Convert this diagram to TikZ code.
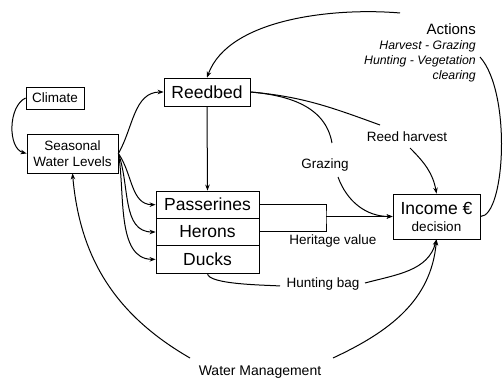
\documentclass[tikz,border=0pt]{standalone}
\usepackage{fontspec}
\setmainfont{Liberation Sans}
\usetikzlibrary{arrows.meta}
\newcommand{\actit}{\fontsize{12.3}{15}\selectfont\itshape}
\begin{document}
\begin{tikzpicture}[x=1pt,y=1pt,
  box/.style={draw, line width=0.8pt, inner sep=0pt, align=center},
  big/.style={font=\fontsize{17.5}{20}\selectfont},
  mid/.style={font=\fontsize{13.5}{15.5}\selectfont},
  lab/.style={font=\fontsize{13.5}{16}\selectfont, inner sep=2pt},
  conn/.style={line width=1pt},
  arr/.style={conn, -{Stealth[length=6pt,width=4.5pt]}}]
\useasboundingbox (0,0) rectangle (503,383);

% boxes
\node[box,mid,minimum width=58pt,minimum height=22pt] (climate) at (55,285) {Climate};
\node[box,mid,minimum width=91pt,minimum height=39pt] (swl) at (72.5,229.5) {Seasonal\\Water Levels};
\node[box,big,minimum width=86pt,minimum height=28pt] (reed) at (207,291) {Reedbed};
\node[box,big,minimum width=103pt,minimum height=27.33pt] (pass) at (207.5,178.33) {Passerines};
\node[box,big,minimum width=103pt,minimum height=27.33pt] (her) at (207.5,151) {Herons};
\node[box,big,minimum width=103pt,minimum height=27.33pt] (duck) at (207.5,123.67) {Ducks};
\node[box,font=\fontsize{13.5}{17}\selectfont,minimum width=87pt,minimum height=45pt] (inc) at (436.5,166.5)
  {{\fontsize{17.5}{17}\selectfont Income €}\\decision};

% labels
\node[lab] (rh) at (407,246) {Reed harvest};
\node[lab] (gr) at (325,218) {Grazing};
\node[lab] (hv) at (333,142) {Heritage value};
\node[lab] (hb) at (323,99) {Hunting bag};
\node[lab,font=\fontsize{14}{16}\selectfont] (wm) at (260,11) {Water Management};
\node[align=right, anchor=north east, inner sep=0pt, font=\fontsize{12.3}{15}\selectfont] (act) at (476,360)
  {{\fontsize{15}{15}\selectfont Actions}\\{\actit Harvest - Grazing}\\{\actit Hunting - Vegetation}\\{\actit clearing}};

\coordinate (a1) at (400,370);
\coordinate (a2) at (480,326);
\coordinate (hj) at (326,166.5);

% connectors
\draw[arr] (climate.west) to[out=205,in=165,looseness=0.9] (swl.west);
\draw[arr] (swl.east) to[out=60,in=180] (reed.west);
\draw[arr] (swl.east) to[out=-55,in=180] (pass.west);
\draw[arr] (swl.east) to[out=-70,in=180] (her.west);
\draw[arr] (swl.east) to[out=-80,in=180,looseness=0.9] (duck.west);
\draw[arr] (reed.south) -- (pass.north);

\draw[arr] (a1) to[out=175,in=70,looseness=0.8] (reed.north);
\draw[conn] (inc.east) .. controls (505,166.5) and (512,290) .. (a2);

\draw[conn] (reed.east) to[out=-5,in=160] ([shift={(-27,12)}]rh.center);
\draw[arr] ([shift={(3,-11)}]rh.center) to[out=-45,in=100] (inc.north);

\draw[conn] (reed.east) to[out=-5,in=100] ([shift={(7,22)}]gr.center);
\draw[arr] ([shift={(13,-12)}]gr.center) to[out=-70,in=180] (inc.west);

\draw[conn] (pass.east) -| (hj) |- (her.east);
\draw[arr] (hj) -- (inc.west);

\draw[conn] (duck.south) to[out=-90,in=175,looseness=0.4] ([shift={(-43,-2)}]hb.center);
\draw[arr] ([shift={(42,1)}]hb.center) to[out=15,in=-105] (inc.south);

\draw[arr] ([shift={(-70,14)}]wm.center) to[out=150,in=-85] (swl.south);
\draw[arr] ([shift={(73,14)}]wm.center) to[out=25,in=-95] (inc.south);
\end{tikzpicture}
\end{document}
